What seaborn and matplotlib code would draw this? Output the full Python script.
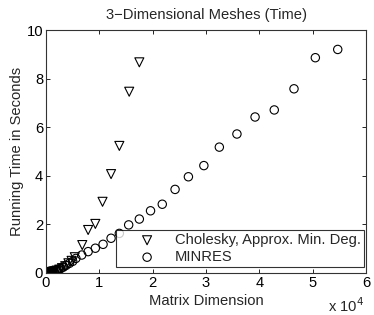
import matplotlib
matplotlib.use("Agg")
import matplotlib.pyplot as plt
import seaborn as sns
import pandas as pd

# Data (x in units of 1e4)
chol_x = [0.01, 0.02, 0.03, 0.05, 0.06, 0.08, 0.10, 0.12, 0.14, 0.16, 0.20, 0.25,
          0.30, 0.36, 0.42, 0.48, 0.54, 0.68, 0.79, 0.925, 1.06, 1.22, 1.375, 1.56, 1.75]
chol_y = [0.005, 0.01, 0.015, 0.02, 0.03, 0.03, 0.04, 0.05, 0.06, 0.07, 0.10, 0.14,
          0.20, 0.28, 0.40, 0.50, 0.65, 1.15, 1.77, 2.02, 2.93, 4.07, 5.23, 7.46, 8.67]
minres_x = [0.01, 0.02, 0.03, 0.04, 0.05, 0.06, 0.08, 0.09, 0.11, 0.12, 0.15, 0.19,
            0.23, 0.28, 0.33, 0.38, 0.44, 0.50, 0.56, 0.67, 0.79, 0.925, 1.07, 1.22,
            1.375, 1.55, 1.75, 1.96, 2.18, 2.42, 2.67, 2.96, 3.25, 3.58, 3.92, 4.28,
            4.65, 5.05, 5.47]
minres_y = [0.005, 0.01, 0.015, 0.02, 0.025, 0.03, 0.04, 0.05, 0.06, 0.07, 0.09, 0.12,
            0.15, 0.19, 0.25, 0.32, 0.40, 0.48, 0.60, 0.74, 0.88, 1.02, 1.18, 1.43,
            1.63, 1.98, 2.22, 2.56, 2.83, 3.44, 3.96, 4.42, 5.18, 5.72, 6.42, 6.71,
            7.58, 8.86, 9.20]
labels = ["Cholesky, Approx. Min. Deg.", "MINRES"]
xticks = [0, 1, 2, 3, 4, 5, 6]
yticks = [0, 2, 4, 6, 8, 10]

sns.set_theme(style="white")
plt.rcParams['font.family'] = ['Liberation Sans', 'DejaVu Sans']
FS = 10.6

fig = plt.figure(figsize=(3.74, 3.15), dpi=100)
ax = fig.add_axes([46/374, 1-273/315, 320/374, 243/315])

df1 = pd.DataFrame({"x": chol_x, "y": chol_y})
df2 = pd.DataFrame({"x": minres_x, "y": minres_y})
sns.scatterplot(data=df1, x="x", y="y", marker="v", s=42, facecolor="none",
                edgecolor="black", linewidth=0.8, ax=ax, label=labels[0])
sns.scatterplot(data=df2, x="x", y="y", marker="o", s=36, facecolor="none",
                edgecolor="black", linewidth=0.8, ax=ax, label=labels[1])
for c in ax.collections:
    c.set_facecolor("none")
    c.set_edgecolor("black")

ax.set_xlim(0, 6)
ax.set_ylim(0, 10)
ax.set_xticks(xticks)
ax.set_yticks(yticks)
ax.set_xticklabels([str(t) for t in xticks])
ax.set_yticklabels([str(t) for t in yticks])
ax.tick_params(direction="in", length=3, width=0.6, top=True, right=True,
               labelsize=FS, colors="black", pad=2,
               bottom=True, left=True)
for s in ax.spines.values():
    s.set_visible(True)
    s.set_color("#333333")
    s.set_linewidth(0.8)

ax.set_title("3\u2212Dimensional Meshes (Time)", fontsize=FS, pad=8)
ax.set_xlabel("Matrix Dimension", fontsize=FS, labelpad=3)
ax.set_ylabel("Running Time in Seconds", fontsize=FS, labelpad=2)
fig.text(364/374, 1-306/315, r"x 10$^4$", fontsize=FS, ha="right", va="center")

leg = ax.legend(loc="lower right", bbox_to_anchor=(364/374, 1-267/315),
                bbox_transform=fig.transFigure, fontsize=FS, frameon=True,
                fancybox=False, edgecolor="black", borderpad=0.2,
                handletextpad=0.0, labelspacing=0.2, handlelength=3.8,
                borderaxespad=0)
leg.get_frame().set_linewidth(0.8)
for h in leg.legend_handles:
    h.set_facecolor("none")
    h.set_edgecolor("black")

fig.savefig("out.png", dpi=100)
